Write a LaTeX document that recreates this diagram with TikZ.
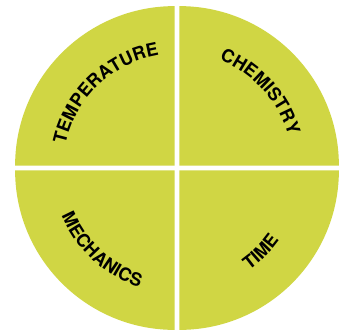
\documentclass[tikz,border=0pt]{standalone}
\usepackage{fontspec}
\setmainfont{TeX Gyre Heros}
\usetikzlibrary{decorations.text}
\definecolor{lime}{RGB}{208,214,68}
\newcommand\labelfont{\fontsize{18}{18}\selectfont\bfseries}
\def\quadrant(#1)(#2:#3){\fill[lime] (#1) -- ++(#2:159.5pt) arc (#2:#3:159.5pt) -- cycle;}
\def\arclabel(#1:#2:#3)#4{\path[decorate, decoration={text along path, text align=center, text={|\labelfont|#4}}] (#1:#3) arc (#1:#2:#3);}

\begin{document}
\begin{tikzpicture}
		%%%%% START %%%%%
		
		\useasboundingbox (-177pt, -165pt) rectangle (170pt, 168pt);
		
		\quadrant(-2.4pt, 2.4pt)(180:90)
		\quadrant(2.4pt, 2.4pt)(90:0)
		\quadrant(-2.4pt, -2.4pt)(180:270)
		\quadrant(2.4pt, -2.4pt)(270:360)
		
		\arclabel(180:87:114pt){TEMPERATURE}
		\arclabel(88:-3:116pt){CHEMISTRY}
		\arclabel(182:273:125pt){MECHANICS}
		\arclabel(-90:0:125pt){TIME}
		
		%%%%% END %%%%%
	\end{tikzpicture}
\end{document}
